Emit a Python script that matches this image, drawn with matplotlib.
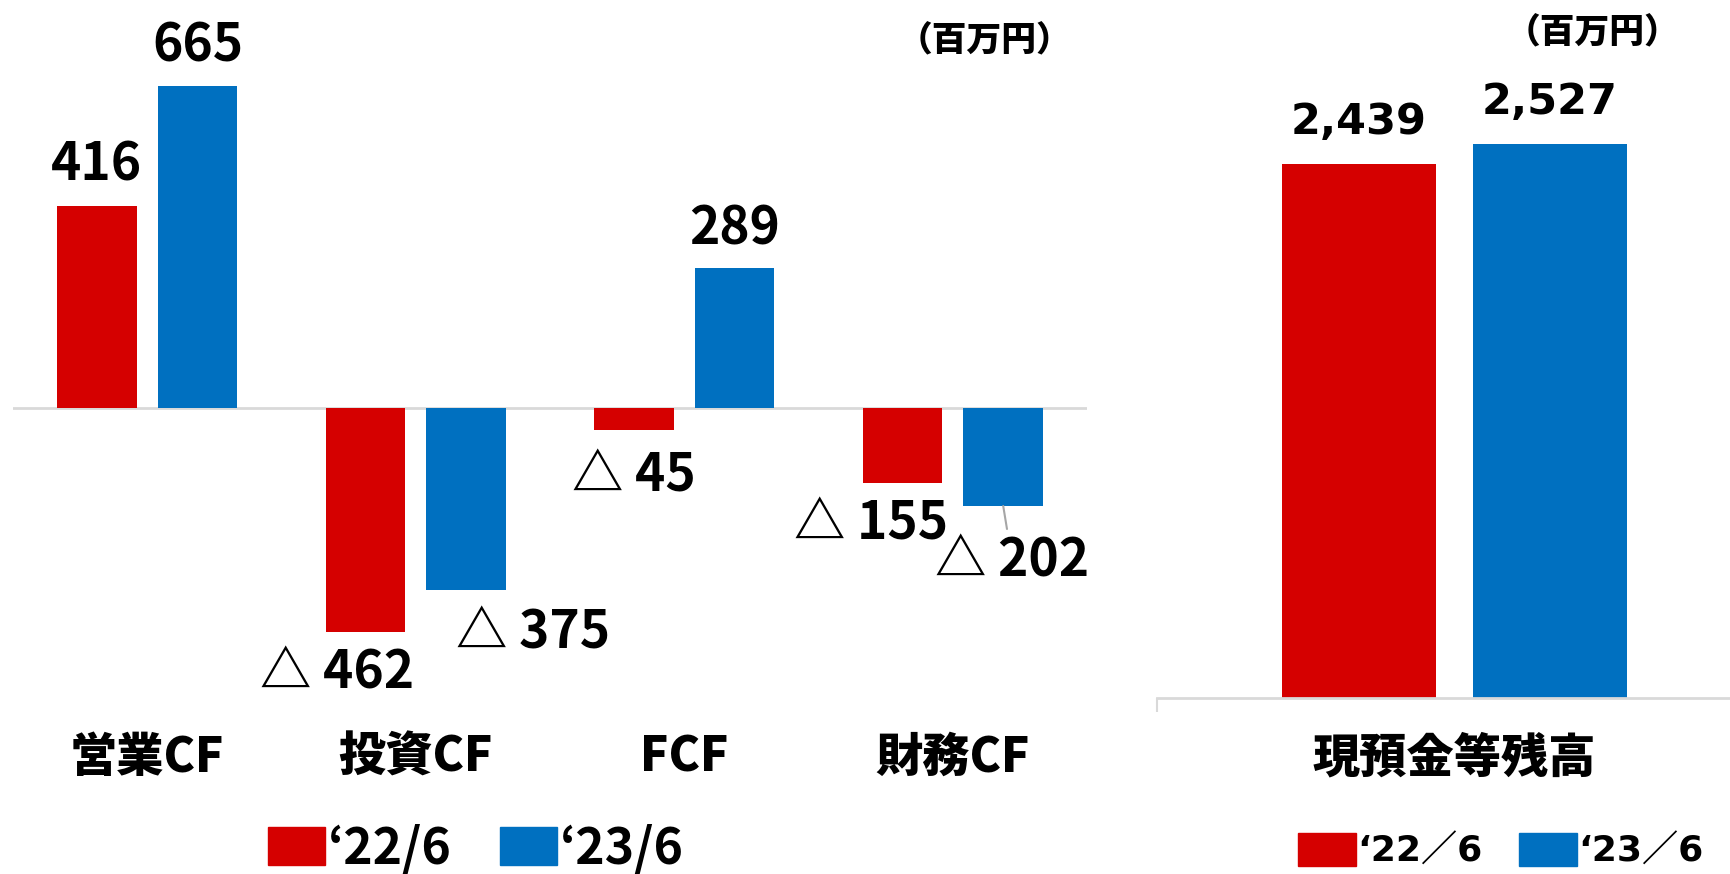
import matplotlib
matplotlib.use("Agg")
import matplotlib.pyplot as plt
from matplotlib.patches import Patch

# --- data ---------------------------------------------------------------
categories = ["営業CF", "投資CF", "FCF", "財務CF"]
cf_2206 = [416, -462, -45, -155]
cf_2306 = [665, -375, 289, -202]

cash_category = "現預金等残高"
cash_2206 = [2439]
cash_2306 = [2527]

series_labels = ["‘22/6", "‘23/6"]
unit_label = "（百万円）"

# --- style --------------------------------------------------------------
RED = "#D50000"
BLUE = "#0070C0"
LINE_GRAY = "#D9D9D9"

JP = "Noto Sans CJK JP"
NUM = [JP, "DejaVu Sans"]
WIDE = ["DejaVu Sans", JP]

# label offsets in pixels (dx, dy) relative to bar end
red_offsets = [(0, 41), (-28, -41), (0, -46), (-31, -41)]
blue_offsets = [(0, 40), (67, -43), (0, 39), (9, -55)]

W, H = 1731, 874
fig = plt.figure(figsize=(W / 100, H / 100), dpi=100)


def fig_box(x0, y0, x1, y1):
    # pixel box with top-left origin -> figure fraction rect
    return [x0 / W, 1 - y1 / H, (x1 - x0) / W, (y1 - y0) / H]


def fmt(v):
    return f"{v:,}" if v >= 0 else f"△ {-v:,}"


def clean(ax):
    for s in ax.spines.values():
        s.set_visible(False)
    ax.set_yticks([])


# --- left: cash flows ----------------------------------------------------
ax = fig.add_axes(fig_box(13, 40, 1087, 700))
clean(ax)
x = list(range(len(categories)))
bw, off = 0.296, 0.188
bars_r = ax.bar([i - off for i in x], cf_2206, bw, color=RED)
bars_b = ax.bar([i + off for i in x], cf_2306, bw, color=BLUE)
ax.axhline(0, color=LINE_GRAY, lw=2, zorder=0)
ax.set_xlim(-0.5, 3.5)
ax.set_ylim(-602, 759)
ax.set_xticks(x)
ax.set_xticklabels(categories, fontfamily=JP, fontweight="heavy", fontsize=34)
ax.tick_params(axis="x", length=0, pad=24)

for bars, vals, offs in [(bars_r, cf_2206, red_offsets), (bars_b, cf_2306, blue_offsets)]:
    for b, v, (dx, dy) in zip(bars, vals, offs):
        xc = b.get_x() + b.get_width() / 2
        arrow = None
        if v == cf_2306[3]:
            arrow = dict(arrowstyle="-", color="#A6A6A6", lw=1.5, shrinkA=2, shrinkB=0)
        ax.annotate(fmt(v), (xc, v), xytext=(dx, dy), textcoords="offset pixels",
                    ha="center", va="center", fontsize=37, fontweight="bold",
                    fontfamily=NUM, arrowprops=arrow)

fig.text(898 / W, 1 - 41 / H, unit_label, fontfamily=JP, fontweight="heavy",
         fontsize=25, va="center", ha="left")

fig.legend([Patch(color=RED), Patch(color=BLUE)], series_labels, loc="center",
           bbox_to_anchor=(476 / W, 1 - 849 / H), ncol=2, frameon=False,
           prop=dict(family=NUM, weight="bold", size=36),
           handlelength=1.15, handleheight=0.8, handletextpad=0.06,
           columnspacing=0.95, borderpad=0, borderaxespad=0)

# --- right: cash balance -------------------------------------------------
ax2 = fig.add_axes(fig_box(1157, 0, 1731, 698))
clean(ax2)
ax2.spines["bottom"].set_visible(True)
ax2.spines["bottom"].set_color(LINE_GRAY)
ax2.spines["bottom"].set_linewidth(2)
rb, roff = 0.3, 0.1854
r1 = ax2.bar([-roff], cash_2206, rb, color=RED)
r2 = ax2.bar([roff], cash_2306, rb, color=BLUE)
ax2.set_xlim(-0.578, 0.537)
ax2.set_ylim(0, 3186)
ax2.set_xticks([0])
ax2.set_xticklabels([cash_category], fontfamily=JP, fontweight="heavy", fontsize=34)
ax2.tick_params(axis="x", which="major", length=0, pad=26)
ax2.set_xticks([-0.578], minor=True)
ax2.tick_params(axis="x", which="minor", length=10, width=1.5, color=LINE_GRAY)

for bars, vals in [(r1, cash_2206), (r2, cash_2306)]:
    for b, v in zip(bars, vals):
        xc = b.get_x() + b.get_width() / 2
        ax2.annotate(fmt(v), (xc, v), xytext=(0, 42), textcoords="offset pixels",
                     ha="center", va="center", fontsize=31, fontweight="bold",
                     fontfamily=WIDE)

fig.text(1506 / W, 1 - 33 / H, unit_label, fontfamily=JP, fontweight="heavy",
         fontsize=25, va="center", ha="left")

# right legend uses the wide full-width slash
wide_labels = [s.replace("/", "／") for s in series_labels]
fig.legend([Patch(color=RED), Patch(color=BLUE)], wide_labels, loc="center left",
           bbox_to_anchor=(1298 / W, 1 - 851 / H), ncol=2, frameon=False,
           prop=dict(family=WIDE, weight="bold", size=26),
           handlelength=1.6, handleheight=1.05, handletextpad=0.05,
           columnspacing=1.0, borderpad=0, borderaxespad=0)

fig.savefig("out.png", dpi=100, facecolor="white")
